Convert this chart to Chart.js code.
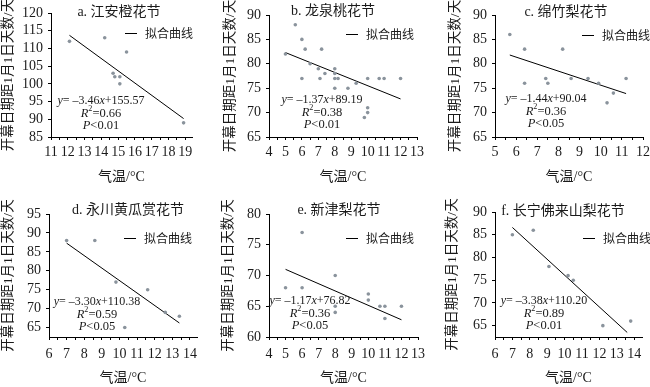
<!DOCTYPE html>
<html>
<head>
<meta charset="utf-8">
<script src="https://cdn.jsdelivr.net/npm/chart.js"></script>
<style>
html,body{margin:0;padding:0;background:#fff;}
#wrap{position:relative;width:650px;height:387px;overflow:hidden;background:#fff;}
canvas{position:absolute;}
</style>
</head>
<body>
<div id="wrap">
<canvas id="cA" width="215" height="193" style="left:0;top:0"></canvas>
<canvas id="cB" width="215" height="193" style="left:215px;top:0"></canvas>
<canvas id="cC" width="220" height="193" style="left:430px;top:0"></canvas>
<canvas id="cD" width="215" height="194" style="left:0;top:193px"></canvas>
<canvas id="cE" width="215" height="194" style="left:215px;top:193px"></canvas>
<canvas id="cF" width="220" height="194" style="left:430px;top:193px"></canvas>
</div>
<script>
// a. 江安橙花节
var tempA = [12.1, 14.2, 15.5, 14.7, 14.8, 15.1, 15.1, 18.9];
var diasA = [112, 113, 109, 103, 102, 102, 100, 89];
var ajusteXA = [12.1, 18.9];
var ajusteYA = [113.7, 90.2];
var ticksXA = [11, 12, 13, 14, 15, 16, 17, 18, 19];
var ticksYA = [85, 90, 95, 100, 105, 110, 115, 120];

// b. 龙泉桃花节
var tempB = [5.6, 5, 6, 6.2, 6, 6.5, 7, 7.1, 7.2, 7.4, 8, 8, 8, 8.2, 8, 8.8, 9.3, 9.8, 10, 10, 10, 10.7, 11, 12];
var diasB = [88, 82, 85, 83, 77, 80, 79, 77, 83, 78, 79, 78, 77, 77, 75, 75, 76, 69, 71, 70, 77, 77, 77, 77];
var ajusteXB = [5, 12];
var ajusteYB = [82.3, 72.8];
var ticksXB = [4, 5, 6, 7, 8, 9, 10, 11, 12, 13];
var ticksYB = [65, 70, 75, 80, 85, 90];

// c. 绵竹梨花节
var tempC = [5.7, 6.4, 6.4, 7.4, 7.5, 8.2, 8.6, 9.4, 9.9, 10.3, 10.6, 11.2];
var diasC = [86, 83, 76, 77, 76, 83, 77, 77, 76, 72, 74, 77];
var ajusteXC = [5.7, 11.2];
var ajusteYC = [81.8, 73.9];
var ticksXC = [5, 6, 7, 8, 9, 10, 11, 12];
var ticksYC = [65, 70, 75, 80, 85, 90];

// d. 永川黄瓜赏花节
var tempD = [7, 8.6, 9.8, 10.3, 11.6, 12.6, 13.4];
var diasD = [88, 88, 77, 65, 75, 69, 68];
var ajusteXD = [7, 13.4];
var ajusteYD = [87.3, 66.2];
var ticksXD = [6, 7, 8, 9, 10, 11, 12, 13, 14];
var ticksYD = [65, 70, 75, 80, 85, 90, 95];

// e. 新津梨花节
var tempE = [5, 6, 6, 8, 8, 8, 10, 10, 10.7, 11, 11, 12];
var diasE = [68, 77, 68, 70, 65, 64, 67, 66, 65, 65, 63, 65];
var ajusteXE = [5, 12];
var ajusteYE = [71.0, 62.8];
var ticksXE = [4, 5, 6, 7, 8, 9, 10, 11, 12, 13];
var ticksYE = [60, 65, 70, 75, 80];

// f. 长宁佛来山梨花节
var tempF = [7, 8.2, 9.1, 10.2, 10.5, 12.2, 13.8];
var diasF = [85, 86, 78, 76, 75, 65, 66];
var ajusteXF = [7, 13.6];
var ajusteYF = [86.6, 63.5];
var ticksXF = [6, 7, 8, 9, 10, 11, 12, 13, 14];
var ticksYF = [65, 70, 75, 80, 85, 90];

var titulos = ['a. 江安橙花节', 'b. 龙泉桃花节', 'c. 绵竹梨花节', 'd. 永川黄瓜赏花节', 'e. 新津梨花节', 'f. 长宁佛来山梨花节'];
var pendientes = ['–3.46', '–1.37', '–1.44', '–3.30', '–1.17', '–3.38'];
var interceptos = ['155.57', '89.19', '90.04', '110.38', '76.82', '110.20'];
var r2 = ['0.66', '0.38', '0.36', '0.59', '0.36', '0.89'];
var valoresP = ['0.01', '0.01', '0.05', '0.05', '0.05', '0.01'];

var SERIF = '"Liberation Serif", "Noto Sans CJK SC", serif';
var TEXTO = '#1a1a1a';

/**
 * Dibuja un texto con partes en cursiva / superindice centrado en cx
 */
function textoRico(ctx, partes, cx, y, size){
    var total = 0;
    partes.forEach(function(p){
        ctx.font = (p[1] == 'i' ? 'italic ' : '') + (p[1] == 's' ? size * 0.65 : size) + 'px ' + SERIF;
        p.w = ctx.measureText(p[0]).width;
        total += p.w;
    });
    var x = cx - total / 2;
    partes.forEach(function(p){
        ctx.font = (p[1] == 'i' ? 'italic ' : '') + (p[1] == 's' ? size * 0.65 : size) + 'px ' + SERIF;
        ctx.fillText(p[0], x, p[1] == 's' ? y - size * 0.35 : y);
        x += p.w;
    });
}

var pluginTexto = {
    id: 'textoPanel',
    afterDraw: function(chart){
        var p = chart.options.plugins.textoPanel;
        var ctx = chart.ctx;
        var k = p.k;
        ctx.save();
        ctx.fillStyle = TEXTO;
        ctx.textBaseline = 'middle';
        ctx.textAlign = 'center';
        ctx.font = '14px ' + SERIF;
        ctx.fillText(titulos[k], p.tx, p.ty);

        ctx.strokeStyle = '#000';
        ctx.lineWidth = 1;
        ctx.beginPath();
        ctx.moveTo(p.lx, Math.round(p.ly) + 0.5);
        ctx.lineTo(p.lx + 12, Math.round(p.ly) + 0.5);
        ctx.stroke();
        ctx.textAlign = 'left';
        ctx.font = '12px "Noto Sans CJK SC"';
        ctx.fillText('拟合曲线', p.lx + 20, p.ly);

        textoRico(ctx, [['y', 'i'], ['= ' + pendientes[k], 'n'], ['x', 'i'], ['+' + interceptos[k], 'n']], p.ex, p.ey, 12);
        textoRico(ctx, [['R', 'i'], ['2', 's'], ['=' + r2[k], 'n']], p.ex, p.ey + 12.5, 12.5);
        textoRico(ctx, [['P', 'i'], ['<' + valoresP[k], 'n']], p.ex, p.ey + 25, 12.5);
        ctx.restore();
    }
};

function crearPanel(id, k, xs, ys, fx, fy, tx, ty, c){
    var puntos = xs.map(function(x, i){ return {x: x, y: ys[i]}; });
    var linea = fx.map(function(x, i){ return {x: x, y: fy[i]}; });
    var canvas = document.getElementById(id);
    var alto = canvas.height;
    new Chart(canvas.getContext('2d'), {
        type: 'scatter',
        data: {
            datasets: [{
                data: puntos,
                pointRadius: 1.8,
                pointBackgroundColor: '#8a939c',
                pointBorderWidth: 0
            }, {
                data: linea,
                showLine: true,
                pointRadius: 0,
                borderColor: '#000',
                borderWidth: 1
            }]
        },
        plugins: [pluginTexto],
        options: {
            responsive: false,
            animation: false,
            layout: { padding: { left: 0, top: c.top, right: c.right, bottom: 0 } },
            plugins: {
                legend: { display: false },
                tooltip: { enabled: false },
                textoPanel: c.txt
            },
            scales: {
                x: {
                    type: 'linear',
                    min: c.xmin, max: c.xmax,
                    afterBuildTicks: function(s){
                        var t = [];
                        tx.forEach(function(v, i){
                            t.push({value: v});
                            if (i < tx.length - 1) t.push({value: v + 0.5});
                        });
                        s.ticks = t;
                    },
                    afterFit: function(s){ s.height = alto - c.bottom; s.paddingLeft = 0; s.paddingRight = 0; },
                    ticks: {
                        autoSkip: false, maxRotation: 0, padding: c.xpad,
                        color: TEXTO, font: { family: SERIF, size: 14 },
                        callback: function(v){ return Number.isInteger(v) ? v : ''; }
                    },
                    grid: { drawOnChartArea: false, tickLength: 3, color: '#000' },
                    border: { color: '#000', width: 1 },
                    title: { display: true, text: '气温/°C', color: TEXTO, font: { family: SERIF, size: 14 }, padding: { top: 0, bottom: c.xtpad } }
                },
                y: {
                    min: c.ymin, max: c.ymax,
                    afterBuildTicks: function(s){ s.ticks = ty.map(function(v){ return {value: v}; }); },
                    afterFit: function(s){ s.width = c.left; s.paddingTop = 0; s.paddingBottom = 0; },
                    ticks: { autoSkip: false, padding: 5, color: TEXTO, font: { family: SERIF, size: 14 } },
                    grid: { drawOnChartArea: false, tickLength: 3, color: '#000' },
                    border: { color: '#000', width: 1 },
                    title: { display: true, text: '开幕日期距1月1日天数/天', color: TEXTO, font: { family: SERIF, size: 13.5 }, padding: { top: c.ytpad, bottom: 0 } }
                }
            }
        }
    });
}

crearPanel('cA', 0, tempA, diasA, ajusteXA, ajusteYA, ticksXA, ticksYA,
    {left: 51, right: 23, top: 13, bottom: 137, xmin: 11, xmax: 19.4, ymin: 85, ymax: 120, xpad: 4, xtpad: 7, ytpad: 0,
     txt: {k: 0, tx: 119, ty: 12, lx: 125, ly: 33, ex: 101, ey: 101}});
crearPanel('cB', 1, tempB, diasB, ajusteXB, ajusteYB, ticksXB, ticksYB,
    {left: 54, right: 13, top: 15, bottom: 137, xmin: 4, xmax: 13, ymin: 65, ymax: 90, xpad: 4, xtpad: 7, ytpad: 7,
     txt: {k: 1, tx: 118, ty: 11, lx: 131, ly: 34, ex: 107, ey: 100}});
crearPanel('cC', 2, tempC, diasC, ajusteXC, ajusteYC, ticksXC, ticksYC,
    {left: 65, right: 7, top: 15, bottom: 137, xmin: 5, xmax: 12, ymin: 65, ymax: 90, xpad: 4, xtpad: 7, ytpad: 17,
     txt: {k: 2, tx: 136, ty: 12, lx: 152, ly: 35, ex: 116, ey: 99}});
crearPanel('cD', 3, tempD, diasD, ajusteXD, ajusteYD, ticksXD, ticksYD,
    {left: 49, right: 18, top: 21, bottom: 144, xmin: 6, xmax: 14.4, ymin: 62.5, ymax: 95, xpad: 6, xtpad: 0, ytpad: 0,
     txt: {k: 3, tx: 128, ty: 17, lx: 124, ly: 45, ex: 97, ey: 109}});
crearPanel('cE', 4, tempE, diasE, ajusteXE, ajusteYE, ticksXE, ticksYE,
    {left: 54, right: 12, top: 21, bottom: 144, xmin: 4, xmax: 13, ymin: 60, ymax: 80, xpad: 6, xtpad: 0, ytpad: 5,
     txt: {k: 4, tx: 124, ty: 17, lx: 131, ly: 45, ex: 95, ey: 108}});
crearPanel('cF', 5, tempF, diasF, ajusteXF, ajusteYF, ticksXF, ticksYF,
    {left: 65, right: 8, top: 19, bottom: 144, xmin: 6, xmax: 14.45, ymin: 62.5, ymax: 90, xpad: 6, xtpad: 0, ytpad: 14,
     txt: {k: 5, tx: 133, ty: 18, lx: 153, ly: 45, ex: 114, ey: 108}});
</script>
</body>
</html>
